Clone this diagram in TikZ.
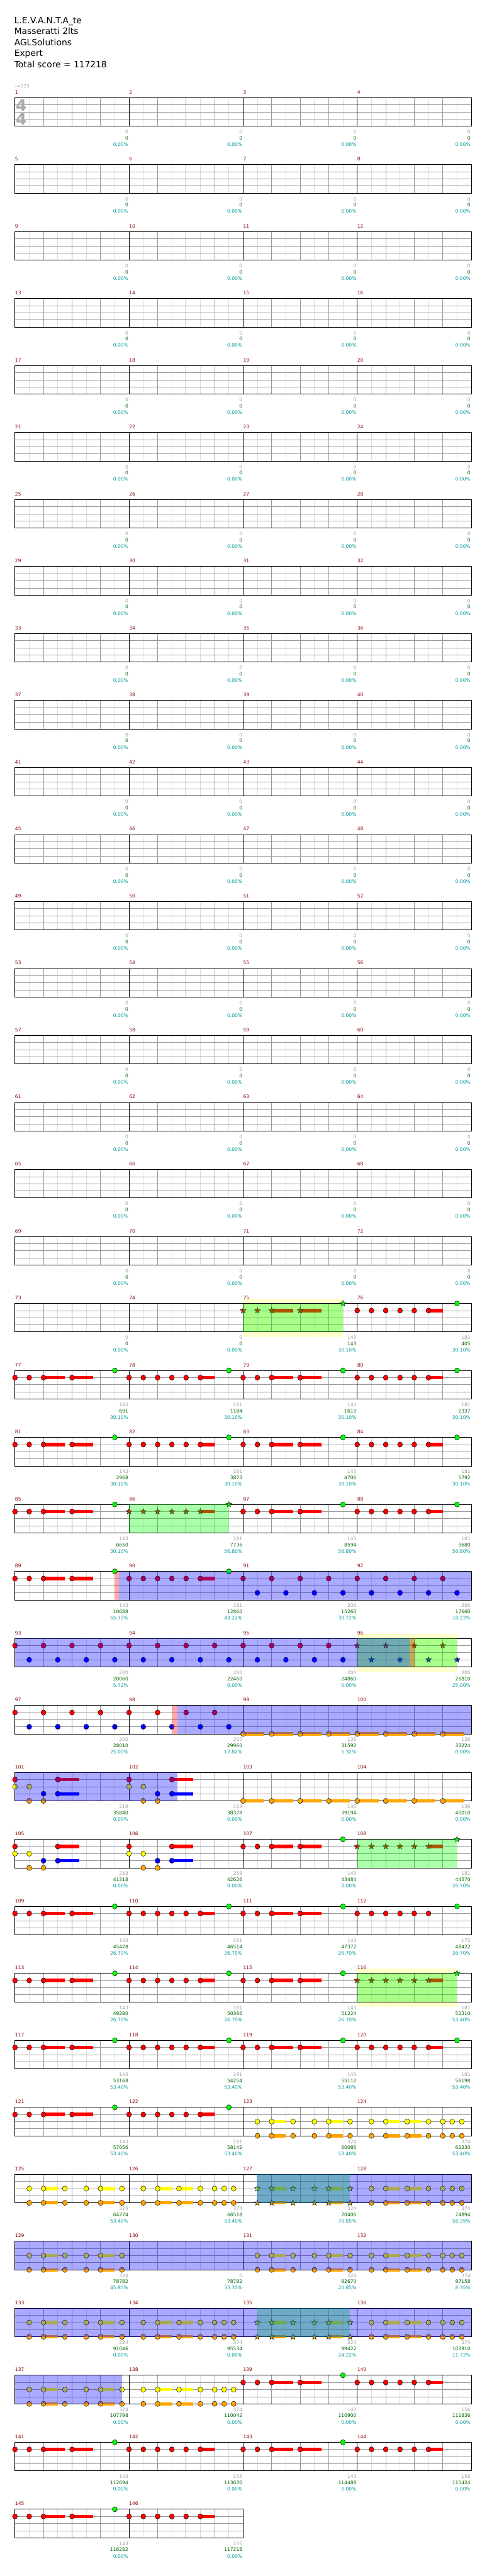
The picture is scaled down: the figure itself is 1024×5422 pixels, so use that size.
\documentclass[tikz,border=0pt]{standalone}
\usepackage{fontspec}
\setmainfont{DejaVu Sans}
\usepackage{xcolor}
\usepackage{tikz}
\usetikzlibrary{calc}

\definecolor{barnumcol}{HTML}{8B0000}
\definecolor{maxcol}{HTML}{A0A0A0}
\definecolor{scorecol}{HTML}{006400}
\definecolor{pctcol}{HTML}{009999}
\definecolor{beatcol}{HTML}{999999}
\definecolor{subcol}{HTML}{DDDDDD}
\definecolor{sectcol}{HTML}{FFFFCC}
\definecolor{hitred}{HTML}{FF0000}
\definecolor{hitblue}{HTML}{0000FF}
\definecolor{hityellow}{HTML}{FFFF00}
\definecolor{hitorange}{HTML}{FFA500}
\definecolor{hitgreen}{HTML}{00FF00}

\tikzset{
  titletext/.style={anchor=base west, inner sep=0pt, font=\fontsize{18.3}{22}\selectfont},
  tempotext/.style={anchor=base west, inner sep=0pt, text=maxcol, font=\fontsize{9.5}{11}\selectfont},
  tsig/.style={inner sep=0pt, text=maxcol!90, font=\fontsize{33}{36}\selectfont\bfseries},
  barnum/.style={anchor=base west, inner sep=0pt, text=barnumcol, font=\fontsize{10}{12}\selectfont},
  maxlbl/.style={anchor=base east, inner sep=0pt, text=maxcol, font=\fontsize{10}{12}\selectfont},
  scorelbl/.style={anchor=base east, inner sep=0pt, text=scorecol, font=\fontsize{10}{12}\selectfont},
  pctlbl/.style={anchor=base east, inner sep=0pt, text=pctcol, font=\fontsize{10}{12}\selectfont},
  subline/.style={draw=subcol, line width=0.8pt},
  beatline/.style={draw=beatcol, line width=0.9pt},
  barline/.style={draw=black, line width=0.8pt},
  staffframe/.style={draw=black, line width=1.1pt},
  hit/.style={draw=black, line width=0.6pt, fill=#1},
  hold/.style={draw=#1, line width=7pt},
  greenzone/.style={fill=green, fill opacity=0.333},
  bluezone/.style={fill=blue, fill opacity=0.333},
  redzone/.style={fill=red, fill opacity=0.333}
}

% position of eighth #2 on line #3 of measure #1
\newcommand\mxy[3]{%
  \pgfmathsetmacro\hx{31.5+240*mod(#1-1,4)+30*(#2)}%
  \pgfmathsetmacro\hy{205.5+141*floor((#1-1)/4)+15*(#3)}}
\newcommand\starpts{(-90:6.3) -- (-54:2.6) -- (-18:6.3) -- (18:2.6) -- (54:6.3) -- (90:2.6) -- (126:6.3) -- (162:2.6) -- (198:6.3) -- (234:2.6) -- cycle}
\newcommand\hits[4]{\foreach \e in {#4}{\mxy{#1}{\e}{#2}\filldraw[hit=#3] (\hx,\hy) ellipse (5.2 and 5.5);}}
\newcommand\stars[4]{\foreach \e in {#4}{\mxy{#1}{\e}{#2}\filldraw[hit=#3, shift={(\hx,\hy)}] \starpts;}}
\newcommand\holds[4]{\foreach \ha/\hb in {#4}{\mxy{#1}{\ha}{#2}\draw[hold=#3] (\hx,\hy) -- ++({30*(\hb-\ha)},0);}}
\newcommand\flag[2]{#2{#1}{0}{hitgreen}{7}}
\newcommand\patA[2]{\holds{#1}{1}{hitred}{2/3.5,4/5.5}#2{#1}{1}{hitred}{0,1,2,4}}
\newcommand\patB[2]{\holds{#1}{1}{hitred}{5/6}#2{#1}{1}{hitred}{0,...,5}}
\newcommand\patC[2]{#2{#1}{1}{hitred}{0,2,4,6}#2{#1}{3}{hitblue}{1,3,5,7}}
\newcommand\patD[1]{\holds{#1}{4}{hitorange}{0/1.5,2/3.5,4/5.5,6/7.5}\hits{#1}{4}{hitorange}{0,2,4,6}}
\newcommand\patE[1]{\holds{#1}{1}{hitred}{3/4.5}\holds{#1}{3}{hitblue}{3/4.5}%
  \hits{#1}{1}{hitred}{0,3}\hits{#1}{2}{hityellow}{0,1}\hits{#1}{3}{hitblue}{2,3}\hits{#1}{4}{hitorange}{1,2}}
\newcommand\patF[2]{\foreach \lane/\hue in {2/hityellow,4/hitorange}{\holds{#1}{\lane}{\hue}{2/3,6/7}#2{#1}{\lane}{\hue}{1,2,3.5,5,6,7.5}}}
\newcommand\patG[2]{\foreach \lane/\hue in {2/hityellow,4/hitorange}{\holds{#1}{\lane}{\hue}{2/3,3.5/4.5}#2{#1}{\lane}{\hue}{1,2,3.5,5,6,6.667,7.333}}}
% shaded zones: from measure #1 eighth #2 to measure #3 eighth #4
\newcommand\zone[5]{\mxy{#1}{#2}{0}\edef\zx{\hx}\edef\zy{\hy}\mxy{#3}{#4}{4}\fill[#5] (\zx,\zy) rectangle (\hx,\hy);}
\newcommand\lit[3]{\mxy{#1}{#2}{0}\edef\zx{\hx}\edef\zy{\hy}\mxy{#1}{#3}{4}\fill[sectcol] (\zx,\zy-10) rectangle (\hx,\hy+11);}
% numbers under a measure
\newcommand\stats[4]{\mxy{#1}{8}{4}%
  \node[maxlbl] (max#1) at (\hx-1.5,\hy+15.8) {#2};
  \node[scorelbl] (score#1) at (\hx-1.5,\hy+28.8) {#3};
  \node[pctlbl] (pct#1) at (\hx-1.5,\hy+42.1) {#4\%};}

\begin{document}
\begin{tikzpicture}[x=1pt, y=-1pt]
    \path[fill=white, use as bounding box] (0,0) rectangle (1024,5422);
    % Header
    \node[titletext] (song) at (30,49) {L.E.V.A.N.T.A\_te};
    \node[titletext] (artist) at (30,72.3) {Masseratti 2lts};
    \node[titletext] (charter) at (30,95.6) {AGLSolutions};
    \node[titletext] (level) at (30,118.9) {Expert};
    \node[titletext] (total) at (30,142.2) {Total score = 117218};
    \node[tempotext] (tempo) at (31,184.5) {♩=123};

    % Star sections behind the staff
    \lit{75}{0}{7}
    \lit{96}{0}{7}
    \lit{116}{0}{7}

    % Staff grid, one row of measures at a time
    \foreach \r in {0,...,36} {
        \pgfmathsetmacro\ty{205.5+141*\r}
        \pgfmathtruncatemacro\nm{ifthenelse(\r==36,2,4)}
        \pgfmathtruncatemacro\ne{8*\nm}
        \pgfmathsetmacro\rx{31.5+240*\nm}
        \foreach \k in {1,3,...,\ne}
            \draw[subline] ({31.5+30*\k},\ty) -- ++(0,60);
        \foreach \k in {2,4,...,\ne}
            \draw[beatline] ({31.5+30*\k},\ty) -- ++(0,60);
        \foreach \s in {1,2,3}
            \draw[beatline] (31.5,\ty+15*\s) -- (\rx,\ty+15*\s);
        \foreach \k in {8,16,...,\ne}
            \draw[barline] ({31.5+30*\k},\ty) -- ++(0,60);
        \draw[staffframe] (31.5,\ty) rectangle (\rx,\ty+60);
    }
    \node[tsig] (tsigup) at (44.7,221) {4};
    \node[tsig] (tsigdown) at (44.7,251) {4};

    % Measure numbers and scores
    \foreach \m in {1,...,146} {
        \mxy{\m}{0}{0}
        \node[barnum] (bar\m) at (\hx,\hy-8) {\m};
    }
    \foreach \m in {1,...,74} {\stats{\m}{0}{0}{0.00}}
    \foreach \m/\mx/\sc/\pc in {75/143/143/30.10, 76/181/405/30.10, 77/143/691/30.10, 78/181/1184/30.10,
        79/143/1613/30.10, 80/181/2337/30.10, 81/143/2968/30.10, 82/181/3873/30.10,
        83/143/4706/30.10, 84/181/5792/30.10, 85/143/6650/30.10, 86/181/7736/56.80,
        87/143/8594/56.80, 88/181/9680/56.80, 89/143/10688/55.72, 90/181/12860/43.22,
        91/200/15260/30.72, 92/200/17660/18.22, 93/200/20060/5.72, 94/200/22460/0.00,
        95/200/24860/0.00, 96/200/26810/25.00, 97/200/28010/25.00, 98/200/29960/17.82,
        99/136/31592/5.32, 100/136/33224/0.00, 101/218/35840/0.00, 102/218/38378/0.00,
        103/136/39194/0.00, 104/136/40010/0.00, 105/218/41318/0.00, 106/218/42626/0.00,
        107/143/43484/0.00, 108/181/44570/26.70, 109/143/45428/26.70, 110/181/46514/26.70,
        111/143/47372/26.70, 112/175/48422/26.70, 113/143/49280/26.70, 114/181/50366/26.70,
        115/143/51224/26.70, 116/181/52310/53.40, 117/143/53168/53.40, 118/181/54254/53.40,
        119/143/55112/53.40, 120/181/56198/53.40, 121/143/57056/53.40, 122/181/58142/53.40,
        123/324/60086/53.40, 124/374/62330/53.40, 125/324/64274/53.40, 126/374/66518/53.40,
        127/324/70406/70.85, 128/374/74894/58.35, 129/324/78782/45.85, 130/0/78782/33.35,
        131/324/82670/20.85, 132/374/87158/8.35, 133/324/91046/0.00, 134/374/95534/0.00,
        135/324/99422/24.22, 136/374/103910/11.72, 137/324/107798/0.00, 138/374/110042/0.00,
        139/143/110900/0.00, 140/156/111836/0.00, 141/143/112694/0.00, 142/156/113630/0.00,
        143/143/114488/0.00, 144/156/115424/0.00, 145/143/116282/0.00, 146/156/117218/0.00} {
        \stats{\m}{\mx}{\sc}{\pc}
    }

    % Notes
    \foreach \m in {77,79,81,83,85,87,89,107,109,111,113,115,117,119,121,139,141,143,145}
        {\patA{\m}{\hits}}
    \foreach \m in {76,78,80,82,84,88,90,110,114,118,120,122,140,142,144,146}
        {\patB{\m}{\hits}}
    \hits{112}{1}{hitred}{0,...,5}
    \patA{75}{\stars}
    \foreach \m in {86,108,116} {\patB{\m}{\stars}}
    \foreach \m in {76,77,78,79,80,81,82,83,84,85,87,88,89,90,107,109,110,111,112,113,114,115,117,118,119,120,121,122,139,141,143,145}
        {\flag{\m}{\hits}}
    \foreach \m in {75,86,108,116} {\flag{\m}{\stars}}
    \foreach \m in {91,92,93,94,95,97,98} {\patC{\m}{\hits}}
    \patC{96}{\stars}
    \foreach \m in {99,100,103,104} {\patD{\m}}
    \foreach \m in {101,102,105,106} {\patE{\m}}
    \foreach \m in {123,125,129,131,133,137} {\patF{\m}{\hits}}
    \foreach \m in {127,135} {\patF{\m}{\stars}}
    \foreach \m in {124,126,128,132,134,136,138} {\patG{\m}{\hits}}

    % Shaded zones over the notes
    \zone{75}{0}{75}{7}{greenzone}
    \zone{86}{0}{86}{7}{greenzone}
    \zone{96}{0}{96}{7}{greenzone}
    \zone{108}{0}{108}{7}{greenzone}
    \zone{116}{0}{116}{7}{greenzone}
    \zone{127}{1}{127}{7.48}{greenzone}
    \zone{135}{1}{135}{7.48}{greenzone}
    \zone{89}{7}{89}{7.283}{redzone}
    \zone{96}{3.667}{96}{4.017}{redzone}
    \zone{98}{3}{98}{3.39}{redzone}
    \zone{89}{7.283}{92}{8}{bluezone}
    \zone{93}{0}{96}{3.667}{bluezone}
    \zone{98}{3.39}{100}{8}{bluezone}
    \zone{101}{0}{102}{3.39}{bluezone}
    \zone{127}{0.95}{128}{8}{bluezone}
    \zone{129}{0}{132}{8}{bluezone}
    \zone{133}{0}{136}{8}{bluezone}
    \zone{137}{0}{137}{7.5}{bluezone}
\end{tikzpicture}
\end{document}
